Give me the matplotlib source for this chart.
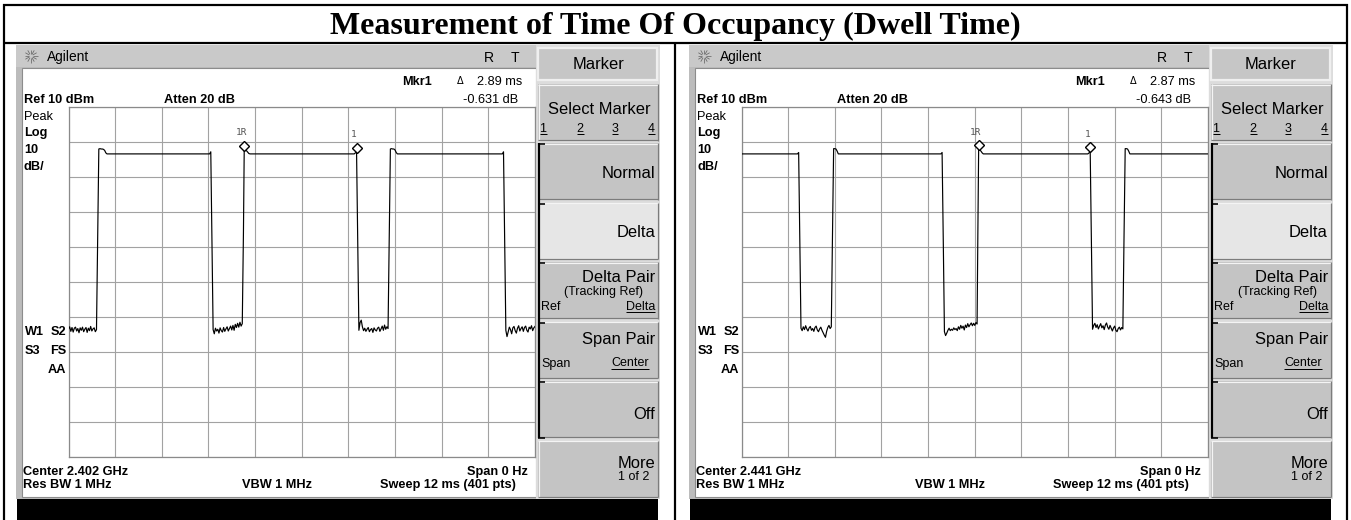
import numpy as np
import matplotlib
matplotlib.use("Agg")
import matplotlib.pyplot as plt
from matplotlib.patches import Rectangle
import matplotlib.font_manager as fm
from matplotlib.transforms import offset_copy

# ---------------- data ----------------
TITLE = "Measurement of Time Of Occupancy (Dwell Time)"
SWEEP_MS = 12.0
SAMPLE_MS = 0.03          # 12 ms / 400 intervals (401 pts)
REF_DBM = 10.0
DB_PER_DIV = 10.0

CENTERS = ["Center 2.402 GHz", "Center 2.441 GHz"]
MKR_DELTA_T = ["2.89 ms", "2.87 ms"]
MKR_DELTA_DB = ["-0.631 dB", "-0.643 dB"]

# left screen trace: edges / high level breakpoints (ms, dBm)
L_EDGE_T = [0.75, 0.78, 0.81, 0.84, 0.87, 0.90, 0.93, 0.96, 0.99, 3.63, 3.66, 3.69,
            4.50, 4.52, 4.55, 4.58, 4.61, 4.64, 4.67, 7.35, 7.38, 7.41, 7.44,
            8.25, 8.28, 8.31, 8.34, 8.37, 8.40, 8.43, 8.46, 11.16, 11.19, 11.22]
L_EDGE_V = [-27.0, -2.0, -1.9, -2.0, -2.0, -2.1, -2.4, -3.1, -3.4, -3.4, -2.8, -28.5,
            -26.0, -2.3, -2.4, -2.5, -2.9, -3.3, -3.4, -3.4, -3.1, -2.93, -28.5,
            -26.5, -2.0, -1.9, -2.0, -2.0, -2.3, -3.0, -3.4, -3.4, -2.8, -28.5]
# left screen noise floor segments (start ms, values each sample)
L_NOISE1_START = 0.00
L_NOISE1 = [-53.4, -52.8, -54.1, -53.0, -54.3, -53.2, -52.9, -54.0, -53.3, -54.5, -53.1, -53.8, -52.9,
            -54.2, -53.5, -53.0, -54.4, -53.2, -53.9, -52.7, -54.0, -53.4, -53.1, -54.2, -53.6]
L_NOISE2_START = 3.72
L_NOISE2 = [-53.6, -54.8, -53.2, -54.0, -53.5, -54.6, -53.1, -53.9, -54.3, -53.0, -54.1, -53.4, -52.8,
            -54.0, -53.3, -52.6, -53.7, -52.4, -53.8, -52.1, -53.0, -51.8, -52.9, -51.5, -52.6, -51.9]
L_NOISE3_START = 7.47
L_NOISE3 = [-53.8, -51.6, -50.9, -52.8, -53.9, -53.2, -54.1, -53.5, -53.0, -54.2, -53.6, -53.3, -54.4,
            -53.1, -53.7, -54.0, -53.2, -52.9, -54.1, -53.4, -52.6, -53.8, -52.3, -53.5, -52.8, -53.3]
L_NOISE4_START = 11.25
L_NOISE4 = [-53.8, -55.6, -54.2, -52.9, -53.6, -54.8, -53.1, -52.7, -53.9, -54.6, -53.2, -52.5, -54.0,
            -53.3, -52.8, -54.1, -53.0, -52.6, -53.8, -54.3, -52.9, -53.4, -52.5, -53.9, -53.1, -52.7]
L_MKR_T = [4.52, 7.41]
L_MKR_V = [-2.3, -2.93]

# right screen trace
R_EDGE_T = [0.00, 1.44, 1.47, 1.50,
            2.34, 2.37, 2.40, 2.43, 2.46, 2.49, 5.13, 5.16, 5.19,
            6.08, 6.10, 6.13, 6.16, 6.19, 6.22, 8.91, 8.94, 8.97, 9.00,
            9.84, 9.87, 9.90, 9.93, 9.96, 9.99, 12.00]
R_EDGE_V = [-3.4, -3.4, -3.0, -28.0,
            -27.0, -1.9, -1.9, -2.0, -2.6, -3.4, -3.4, -3.0, -28.0,
            -26.0, -2.2, -2.3, -2.6, -3.1, -3.4, -3.4, -3.1, -2.85, -28.0,
            -27.0, -1.9, -1.9, -2.0, -2.6, -3.4, -3.4]
R_NOISE1_START = 1.53
R_NOISE1 = [-53.2, -53.9, -52.8, -53.6, -52.5, -53.4, -54.0, -53.1, -52.7, -53.8, -53.3, -54.1, -53.0,
            -52.6, -53.7, -54.2, -53.4, -52.9, -53.8, -54.5, -55.2, -55.8, -54.1, -53.0, -52.4, -53.3, -52.8]
R_NOISE2_START = 5.22
R_NOISE2 = [-54.2, -55.3, -54.6, -53.8, -53.2, -53.9, -53.5, -53.8, -53.1, -53.6, -53.3, -53.9, -52.8,
            -53.5, -52.4, -53.2, -52.6, -53.7, -52.3, -53.0, -51.9, -52.8, -52.2, -51.7, -52.5, -51.8,
            -52.4, -51.6, -52.0]
R_NOISE3_START = 9.03
R_NOISE3 = [-53.5, -52.4, -51.8, -53.0, -52.2, -53.4, -52.6, -51.9, -53.1, -52.5, -53.6, -52.3, -51.7,
            -52.9, -53.5, -52.4, -53.2, -54.0, -53.1, -52.6, -53.8, -54.2, -53.3, -52.9, -53.7, -53.0, -53.4]
R_MKR_T = [6.10, 8.97]
R_MKR_V = [-2.2, -2.85]

MKR_LABELS = ["1R", "1"]
SOFTKEYS = ["Select Marker", "Normal", "Delta", "Delta Pair", "Span Pair", "Off", "More"]

# ---------------- layout ----------------
W, H = 1351, 520
PX = 0.72  # points per pixel at 100 dpi

avail = {f.name for f in fm.fontManager.ttflist}
NARROW = "Liberation Sans Narrow" in avail
SCR_FONT = "Liberation Sans Narrow" if NARROW else "Liberation Sans"
SCR_PX = 14.5 if NARROW else 12.8
SK_PX = 19.5 if NARROW else 16.5
SK2_PX = 15.0 if NARROW else 12.5

fig = plt.figure(figsize=(W / 100, H / 100), dpi=100)
fig.patch.set_facecolor("white")
bg = fig.add_axes([0, 0, 1, 1])
bg.set_xlim(0, W)
bg.set_ylim(H, 0)
bg.axis("off")


def rect(x0, y0, x1, y1, fc, ec="none", lw=0.0, z=1):
    bg.add_patch(Rectangle((x0, y0), x1 - x0, y1 - y0, facecolor=fc, edgecolor=ec,
                           linewidth=lw, zorder=z))


def line(xs, ys, color="black", lw_px=1.0, z=2):
    bg.plot(xs, ys, color=color, lw=lw_px * PX, solid_capstyle="butt", zorder=z)


def txt(x, yc, s, px, weight="normal", ha="left", family=None, color="black"):
    return bg.text(x, yc + 0.36 * px, s, fontsize=px * PX, fontweight=weight, ha=ha,
                   va="baseline", family=family or SCR_FONT, color=color, zorder=6)


underlines = []


def build_trace(edge_t, edge_v, noises):
    t = list(edge_t)
    v = list(edge_v)
    for start, vals in noises:
        t += [start + i * SAMPLE_MS for i in range(len(vals))]
        v += list(vals)
    t = np.array(t)
    v = np.array(v)
    o = np.argsort(t)
    return t[o], v[o]


def panel(ox, trace, mk_t, mk_v, delta_t, delta_db, center):
    # screen frame
    rect(ox + 16, 45, ox + 537, 499, "#bcbcbc")
    rect(ox + 16, 45, ox + 537, 67, "#c9c9c9")
    rect(ox + 22, 68, ox + 536, 497, "white", ec="#8c8c8c", lw=0.8)
    rect(ox + 536, 45, ox + 660, 499, "#dcdcdc")
    rect(ox + 17, 499, ox + 658, 521, "black", z=3)

    # agilent logo
    cx, cy = ox + 31, 56
    for a in np.deg2rad(np.arange(0, 360, 30)):
        line([cx + 2 * np.cos(a), cx + 6.5 * np.cos(a)], [cy + 2 * np.sin(a), cy + 6.5 * np.sin(a)],
             color="#6a6a6a", lw_px=0.8, z=5)
    txt(ox + 47, 56, "Agilent", SCR_PX + 1, family=SCR_FONT)
    txt(ox + 489, 57, "R", SK2_PX + 1.5, ha="center")
    txt(ox + 515, 57, "T", SK2_PX + 1.5, ha="center")

    # annotations
    txt(ox + 402, 80, "Mkr1", SCR_PX, "bold")
    txt(ox + 457, 80, "\u0394", SCR_PX - 3, family="DejaVu Sans")
    txt(ox + 522, 80, delta_t, SCR_PX, ha="right")
    txt(ox + 24, 98, "Ref 10 dBm", SCR_PX, "bold")
    txt(ox + 164, 98, "Atten 20 dB", SCR_PX, "bold")
    txt(ox + 518, 98, delta_db, SCR_PX, ha="right")
    txt(ox + 24, 115, "Peak", SCR_PX)
    txt(ox + 24, 131, "Log", SCR_PX, "bold")
    txt(ox + 24, 148, "10", SCR_PX, "bold")
    txt(ox + 24, 165, "dB/", SCR_PX, "bold")
    txt(ox + 25, 330, "W1", SCR_PX, "bold")
    txt(ox + 66, 330, "S2", SCR_PX, "bold", ha="right")
    txt(ox + 25, 349, "S3", SCR_PX, "bold")
    txt(ox + 66, 349, "FS", SCR_PX, "bold", ha="right")
    txt(ox + 66, 368, "AA", SCR_PX, "bold", ha="right")
    txt(ox + 23, 470, center, SCR_PX, "bold")
    txt(ox + 528, 470, "Span 0 Hz", SCR_PX, "bold", ha="right")
    txt(ox + 23, 483, "Res BW 1 MHz", SCR_PX, "bold")
    txt(ox + 242, 483, "VBW 1 MHz", SCR_PX, "bold")
    txt(ox + 516, 483, "Sweep 12 ms (401 pts)", SCR_PX, "bold", ha="right")

    # softkeys
    rect(ox + 538, 48, ox + 657, 80, "#c6c6c6", ec="#efefef", lw=1.6, z=2)
    txt(ox + 598, 63, "Marker", SK_PX, ha="center")
    tops = [84, 143, 202.5, 262, 321.5, 381, 440.5]
    kh = 56.5
    for i, top in enumerate(tops):
        fc = "#e6e6e6" if SOFTKEYS[i] == "Delta" else "#c4c4c4"
        rect(ox + 538, top, ox + 658, top + kh, fc, z=2)
        line([ox + 538, ox + 658], [top + 0.5, top + 0.5], "#f4f4f4", 1.2, z=3)
        line([ox + 538.5, ox + 538.5], [top, top + kh], "#f4f4f4", 1.2, z=3)
        line([ox + 538, ox + 658], [top + kh - 0.5, top + kh - 0.5], "#7c7c7c", 1.2, z=3)
        line([ox + 657.5, ox + 657.5], [top, top + kh], "#7c7c7c", 1.2, z=3)
    # bracket
    line([ox + 539, ox + 539], [143, 438], "black", 2.2, z=4)
    for yy in [143, 202.5, 262, 321.5, 381]:
        line([ox + 538, ox + 545], [yy + 1, yy + 1], "black", 1.6, z=4)
    line([ox + 538, ox + 545], [437.5, 437.5], "black", 1.6, z=4)

    txt(ox + 599, 108, "Select Marker", SK_PX, ha="center")
    for d, xx in zip(["1", "2", "3", "4"], [543, 580, 615, 651]):
        underlines.append(txt(ox + xx, 127, d, SK2_PX, ha="center"))
    txt(ox + 655, 172, "Normal", SK_PX, ha="right")
    txt(ox + 655, 231, "Delta", SK_PX, ha="right")
    txt(ox + 655, 276, "Delta Pair", SK_PX, ha="right")
    txt(ox + 604, 291, "(Tracking Ref)", SK2_PX, ha="center")
    txt(ox + 541, 305, "Ref", SK2_PX)
    underlines.append(txt(ox + 655, 305, "Delta", SK2_PX, ha="right"))
    txt(ox + 655, 338, "Span Pair", SK_PX, ha="right")
    txt(ox + 541, 362, "Span", SK2_PX)
    underlines.append(txt(ox + 649, 362, "Center", SK2_PX, ha="right"))
    txt(ox + 655, 413, "Off", SK_PX, ha="right")
    txt(ox + 655, 462, "More", SK_PX, ha="right")
    txt(ox + 634, 475, "1 of 2", SK2_PX, ha="center")

    # graticule + trace
    ax = fig.add_axes([(ox + 68.5) / W, (H - 457) / H, 466.5 / W, 350 / H])
    ax.set_facecolor("white")
    ax.set_xlim(0, SWEEP_MS)
    ax.set_ylim(REF_DBM - 10 * DB_PER_DIV, REF_DBM)
    ax.set_xticks(np.linspace(0, SWEEP_MS, 11))
    ax.set_yticks(np.linspace(REF_DBM - 10 * DB_PER_DIV, REF_DBM, 11))
    ax.grid(True, color="#a2a2a2", lw=0.8)
    ax.tick_params(length=0, labelbottom=False, labelleft=False)
    for s in ax.spines.values():
        s.set_color("#8a8a8a")
        s.set_linewidth(0.9)
    t, v = trace
    ax.plot(t, v, color="black", lw=0.85, zorder=3)
    mtrans = offset_copy(ax.transData, fig=fig, x=0, y=4.5, units="dots")
    ltrans = offset_copy(ax.transData, fig=fig, x=-3, y=13, units="dots")
    for mt, mv, lab in zip(mk_t, mk_v, MKR_LABELS):
        ax.plot([mt], [mv], marker="D", ms=5.6, mfc="white", mec="black", mew=1.0,
                transform=mtrans, clip_on=False, zorder=4)
        ax.text(mt, mv, lab, transform=ltrans, fontsize=6.8, family="DejaVu Sans Mono",
                color="#555555", ha="center", va="bottom", zorder=4)


left_trace = build_trace(L_EDGE_T, L_EDGE_V,
                         [(L_NOISE1_START, L_NOISE1), (L_NOISE2_START, L_NOISE2),
                          (L_NOISE3_START, L_NOISE3), (L_NOISE4_START, L_NOISE4)])
right_trace = build_trace(R_EDGE_T, R_EDGE_V,
                          [(R_NOISE1_START, R_NOISE1), (R_NOISE2_START, R_NOISE2),
                           (R_NOISE3_START, R_NOISE3)])

panel(0, left_trace, L_MKR_T, L_MKR_V, MKR_DELTA_T[0], MKR_DELTA_DB[0], CENTERS[0])
panel(673, right_trace, R_MKR_T, R_MKR_V, MKR_DELTA_T[1], MKR_DELTA_DB[1], CENTERS[1])

# outer frame and title
line([3, 1348], [5, 5], "black", 2.2, z=7)
line([4, 4], [4, 521], "black", 2.2, z=7)
line([1347, 1347], [4, 521], "black", 2.2, z=7)
line([3, 1348], [43, 43], "black", 2.2, z=7)
line([675, 675], [43, 521], "black", 2.2, z=7)

title = bg.text(675.5, 34, TITLE, fontsize=23, fontweight="bold", family="Liberation Serif",
                ha="center", va="baseline", zorder=7)

fig.canvas.draw()
r = fig.canvas.get_renderer()
bb = title.get_window_extent(r)
title.set_fontsize(23 * 691.0 / bb.width)

inv = bg.transData.inverted()
for tt in underlines:
    e = tt.get_window_extent(r)
    (x0, _), (x1, _) = inv.transform([[e.x0, e.y0], [e.x1, e.y1]])
    yb = tt.get_position()[1] + 2
    line([x0, x1], [yb, yb], "black", 1.0, z=6)

fig.savefig("out.png", dpi=100)
